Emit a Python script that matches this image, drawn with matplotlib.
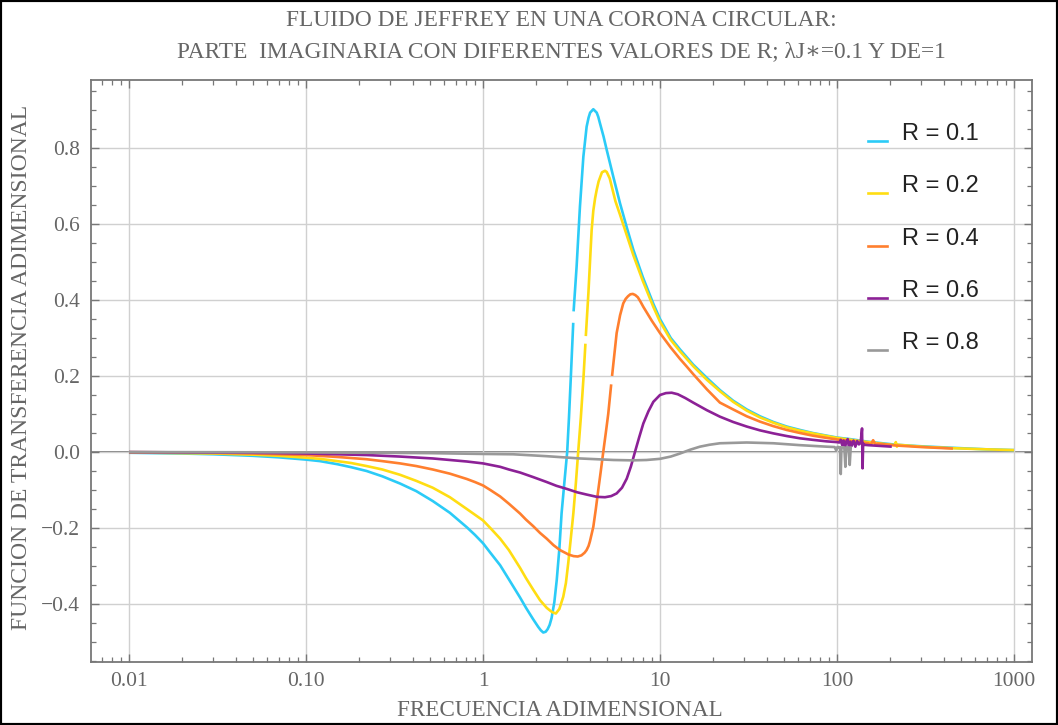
import numpy as np
import matplotlib
matplotlib.use("Agg")
import matplotlib.pyplot as plt
from matplotlib.lines import Line2D
from matplotlib.patches import Rectangle
from matplotlib.ticker import FixedLocator, FixedFormatter, LogLocator, MultipleLocator, FuncFormatter, NullFormatter

nan = np.nan

# ---- data -------------------------------------------------------------
r_labels = ["R = 0.1", "R = 0.2", "R = 0.4", "R = 0.6", "R = 0.8"]
line_colors = ["#2BCBF7", "#FFDD12", "#FF7F2E", "#8C2196", "#999999"]

freq_r01 = [0.01, 0.02, 0.03, 0.05, 0.07, 0.1, 0.12, 0.15, 0.18, 0.22, 0.27, 0.34,
            0.42, 0.52, 0.65, 0.81, 0.9, 1.0, 1.1, 1.25, 1.4, 1.62, 1.75, 1.92, 2.05,
            2.12, 2.19, 2.26, 2.32, 2.38, 2.44, 2.53, 2.61, 2.70, 2.78, 2.88, 2.99,
            3.06, 3.13, 3.235, 3.24, 3.25, 3.38, 3.53, 3.69, 3.85, 3.95, 4.03, 4.2,
            4.39, 4.48, 4.58, 4.8, 5.0, 5.45, 5.94, 6.5, 7.07, 8.0, 9.17, 10, 11.5,
            12.97, 15.4, 18.4, 21.8, 25.9, 30.9, 36.7, 43.7, 52, 61.8, 73, 87.5, 100,
            118, 150, 217, 300, 452, 700, 1000]
imag_r01 = [-0.002, -0.004, -0.006, -0.010, -0.014, -0.020, -0.024, -0.032, -0.040,
            -0.050, -0.064, -0.083, -0.103, -0.129, -0.160, -0.198, -0.218, -0.240,
            -0.265, -0.298, -0.335, -0.383, -0.410, -0.440, -0.460, -0.469, -0.475,
            -0.473, -0.466, -0.455, -0.437, -0.395, -0.337, -0.255, -0.161, -0.082,
            0.0, 0.09, 0.19, 0.34, nan, 0.37, 0.488, 0.646, 0.777, 0.856, 0.880, 0.893,
            0.902, 0.893, 0.882, 0.865, 0.830, 0.795, 0.724, 0.655, 0.590, 0.532,
            0.460, 0.390, 0.350, 0.300, 0.270, 0.230, 0.195, 0.163, 0.135, 0.112,
            0.094, 0.079, 0.067, 0.058, 0.050, 0.043, 0.038, 0.034, 0.027, 0.019,
            0.015, 0.011, 0.007, 0.005]

freq_r02 = [0.01, 0.02, 0.03, 0.05, 0.07, 0.1, 0.12, 0.15, 0.18, 0.22, 0.27, 0.34,
            0.42, 0.52, 0.65, 0.81, 0.9, 1.0, 1.1, 1.25, 1.4, 1.62, 1.75, 1.92, 2.1,
            2.29, 2.45, 2.58, 2.7, 2.84, 2.94, 3.03, 3.13, 3.24, 3.35, 3.45, 3.57,
            3.69, 3.79, 3.80, 3.81, 3.94, 4.11, 4.2, 4.3, 4.39, 4.5, 4.7, 4.89, 5.0,
            5.2, 5.33, 5.6, 5.94, 7.07, 8.0, 9.17, 10, 11.5, 12.97, 15.4, 18.4, 21.8,
            25.9, 30.9, 36.7, 43.7, 52, 61.8, 73, 87.5, 100, 150, 212, 215, 218, 221,
            300, 452, 700, 1000]
imag_r02 = [-0.001, -0.003, -0.004, -0.007, -0.010, -0.015, -0.018, -0.024, -0.029,
            -0.037, -0.046, -0.060, -0.076, -0.094, -0.119, -0.150, -0.165, -0.180,
            -0.200, -0.228, -0.258, -0.305, -0.332, -0.362, -0.390, -0.410, -0.421,
            -0.425, -0.413, -0.381, -0.345, -0.293, -0.230, -0.161, -0.080, 0.0,
            0.09, 0.19, 0.285, nan, 0.305, 0.418, 0.584, 0.635, 0.668, 0.690, 0.712,
            0.736, 0.740, 0.737, 0.720, 0.700, 0.660, 0.625, 0.518, 0.450, 0.382,
            0.343, 0.295, 0.265, 0.226, 0.190, 0.160, 0.132, 0.109, 0.091, 0.077,
            0.065, 0.056, 0.049, 0.042, 0.037, 0.026, 0.018, 0.026, 0.014, 0.019,
            0.014, 0.010, 0.007, 0.005]

freq_r04 = [0.01, 0.02, 0.05, 0.1, 0.15, 0.22, 0.27, 0.34, 0.42, 0.52, 0.65, 0.81,
            0.9, 1.0, 1.1, 1.25, 1.4, 1.62, 1.75, 1.92, 2.1, 2.29, 2.5, 2.72, 3.05,
            3.25, 3.43, 3.6, 3.75, 3.85, 3.95, 4.02, 4.2, 4.34, 4.48, 4.63, 4.78,
            4.94, 5.10, 5.30, 5.33, 5.36, 5.69, 5.95, 6.2, 6.4, 6.6, 6.8, 7.02, 7.25,
            7.5, 7.75, 8.05, 9.0, 10, 11.5, 12.97, 14.15, 15.4, 18.4, 21.8, 25.9,
            30.9, 36.7, 43.7, 52, 61.8, 73, 87.5, 100, 150, 155, 160, 165, 170, 217,
            300, 452]
imag_r04 = [-0.0005, -0.001, -0.004, -0.008, -0.013, -0.019, -0.024, -0.030, -0.037,
            -0.046, -0.057, -0.071, -0.079, -0.088, -0.100, -0.117, -0.136, -0.162,
            -0.178, -0.195, -0.213, -0.228, -0.245, -0.258, -0.270, -0.274, -0.275,
            -0.272, -0.265, -0.258, -0.247, -0.235, -0.197, -0.150, -0.100, -0.050,
            0.0, 0.05, 0.10, 0.178, nan, 0.20, 0.313, 0.360, 0.391, 0.403, 0.410,
            0.415, 0.416, 0.413, 0.407, 0.396, 0.382, 0.345, 0.313, 0.275, 0.245,
            0.225, 0.205, 0.165, 0.130, 0.112, 0.094, 0.080, 0.068, 0.058, 0.050,
            0.043, 0.037, 0.033, 0.023, 0.019, 0.031, 0.020, 0.022, 0.017, 0.013, 0.009]

freq_r06 = [0.01, 0.05, 0.1, 0.22, 0.34, 0.52, 0.65, 0.81, 1.0, 1.25, 1.4, 1.62,
            1.92, 2.29, 2.6, 2.97, 3.4, 3.85, 4.4, 4.89, 5.3, 5.69, 6.1, 6.49, 6.85,
            7.22, 7.62, 8.05, 8.6, 9.17, 10, 10.8, 11.64, 12.6, 13.9, 15.4, 18.4,
            21.8, 25.9, 30.9, 36.7, 43.7, 52, 61.8, 73, 87.5, 100,
            103, 105, 107, 109, 111, 113, 115, 117, 119, 121, 124, 127, 130, 133, 136,
            138.5, 139.5, 140.5, 142, 150, 204]
imag_r06 = [-0.0003, -0.002, -0.004, -0.008, -0.012, -0.017, -0.021, -0.025, -0.030,
            -0.039, -0.046, -0.054, -0.066, -0.079, -0.089, -0.097, -0.106, -0.112,
            -0.118, -0.119, -0.116, -0.109, -0.094, -0.070, -0.038, 0.0, 0.038,
            0.075, 0.107, 0.132, 0.150, 0.155, 0.156, 0.152, 0.142, 0.130, 0.110,
            0.093, 0.079, 0.067, 0.057, 0.049, 0.042, 0.036, 0.032, 0.028, 0.026,
            0.025, 0.032, 0.018, 0.030, 0.012, 0.028, 0.034, 0.010, 0.027, 0.016,
            0.030, 0.014, 0.029, 0.020, 0.024, 0.062, -0.043, 0.022, 0.019, 0.018, 0.014]

freq_r08 = [0.01, 0.1, 0.5, 0.96, 1.48, 2.29, 3.53, 5.45, 7, 8.41, 10, 11.5, 12.97,
            14.8, 16.8, 19, 21.8, 30.9, 43.7, 61.8, 87.5, 97, 99, 100.5, 102, 104,
            105, 106, 110, 111.5, 113, 116.5, 118, 119.5, 121]
imag_r08 = [-0.0001, -0.001, -0.003, -0.005, -0.006, -0.011, -0.017, -0.021, -0.022,
            -0.021, -0.018, -0.012, -0.004, 0.006, 0.014, 0.019, 0.023, 0.025, 0.023,
            0.018, 0.014, 0.013, 0.004, 0.013, 0.013, 0.012, -0.058, 0.012, 0.012,
            -0.039, 0.012, 0.012, -0.034, 0.012, 0.011]

series = [(freq_r01, imag_r01), (freq_r02, imag_r02), (freq_r04, imag_r04),
          (freq_r06, imag_r06), (freq_r08, imag_r08)]

x_ticks = [0.01, 0.1, 1, 10, 100, 1000]
x_tick_labels = ["0.01", "0.10", "1", "10", "100", "1000"]
y_ticks = [-0.4, -0.2, 0.0, 0.2, 0.4, 0.6, 0.8]

# ---- figure -----------------------------------------------------------
W, H = 1058, 725
fig = plt.figure(figsize=(W / 100, H / 100), dpi=100)
ax = fig.add_axes([91 / W, 1 - 662 / H, (1032 - 91) / W, (662 - 80) / H])

serif = ["Liberation Serif", "DejaVu Serif"]
sans = ["Liberation Sans", "DejaVu Sans"]
grey_txt = "#666666"
frame_col = "#777777"

ax.set_xscale("log")
ax.set_xlim(0.0061, 1264)
ax.set_ylim(-0.5526, 0.9789)

ax.grid(True, which="major", color="#d0d0d0", lw=1.0, zorder=0)
ax.axhline(0.0, color="#808080", lw=1.4, zorder=1)

for (fx, fy), col in zip(series, line_colors):
    ax.plot(fx, fy, color=col, lw=1.9, solid_capstyle="butt",
            solid_joinstyle="round", zorder=2)

ax.xaxis.set_major_locator(FixedLocator(x_ticks))
ax.xaxis.set_major_formatter(FixedFormatter(x_tick_labels))
ax.xaxis.set_minor_locator(LogLocator(base=10, subs=np.arange(2, 10), numticks=20))
ax.xaxis.set_minor_formatter(NullFormatter())
ax.yaxis.set_major_locator(FixedLocator(y_ticks))
ax.yaxis.set_minor_locator(MultipleLocator(0.05))


def ylab(v, pos):
    s = "%.1f" % v
    if s in ("-0.0", "0.0"):
        return "0.0"
    return s.replace("-", "\u2212")


ax.yaxis.set_major_formatter(FuncFormatter(ylab))

for sp in ax.spines.values():
    sp.set_color(frame_col)
    sp.set_linewidth(1.3)

ax.tick_params(which="both", direction="in", top=True, right=True, color=frame_col)
ax.tick_params(which="major", length=6, width=1.0)
ax.tick_params(which="minor", length=3.5, width=0.9)
ax.tick_params(axis="x", which="major", pad=7, labelsize=15.5, labelcolor=grey_txt)
ax.tick_params(axis="y", which="major", pad=8, labelsize=15.5, labelcolor=grey_txt)
for lab in ax.get_xticklabels() + ax.get_yticklabels():
    lab.set_fontfamily(serif)

ax.set_xlabel("FRECUENCIA ADIMENSIONAL", fontsize=16.7, color=grey_txt, family=serif)
ax.xaxis.set_label_coords((560 - 91) / (1032 - 91), -(711 - 662) / (662 - 80))
ax.xaxis.label.set_va("center")
ax.set_ylabel("FUNCION DE TRANSFERENCIA ADIMENSIONAL", fontsize=17, color=grey_txt,
              family=serif)
ax.yaxis.set_label_coords(-(91 - 22) / (1032 - 91), (662 - 367) / (662 - 80))
ax.yaxis.label.set_va("center")

fig.text(561 / W, 1 - 20 / H, "FLUIDO DE JEFFREY EN UNA CORONA CIRCULAR:",
         ha="center", va="center", fontsize=16.8, color=grey_txt, family=serif)
fig.text(561 / W, 1 - 52 / H,
         "PARTE  IMAGINARIA CON DIFERENTES VALORES DE R; \u03bbJ\u2217=0.1 Y DE=1",
         ha="center", va="center", fontsize=16.8, color=grey_txt, family=serif)

# legend drawn as short strokes with labels
for i, (lab, col) in enumerate(zip(r_labels, line_colors)):
    y_txt = 134 + 52.3 * i
    y_line = y_txt + 7
    fig.add_artist(Line2D([868 / W, 887 / W], [1 - y_line / H] * 2, color=col, lw=1.9,
                          transform=fig.transFigure))
    fig.text(902 / W, 1 - y_txt / H, lab, ha="left", va="center", fontsize=17,
             color="#222222", family=sans)

fig.add_artist(Rectangle((0, 0), 1, 1, transform=fig.transFigure, fill=False,
                         edgecolor="black", lw=3))

fig.savefig("out.png", dpi=100)
